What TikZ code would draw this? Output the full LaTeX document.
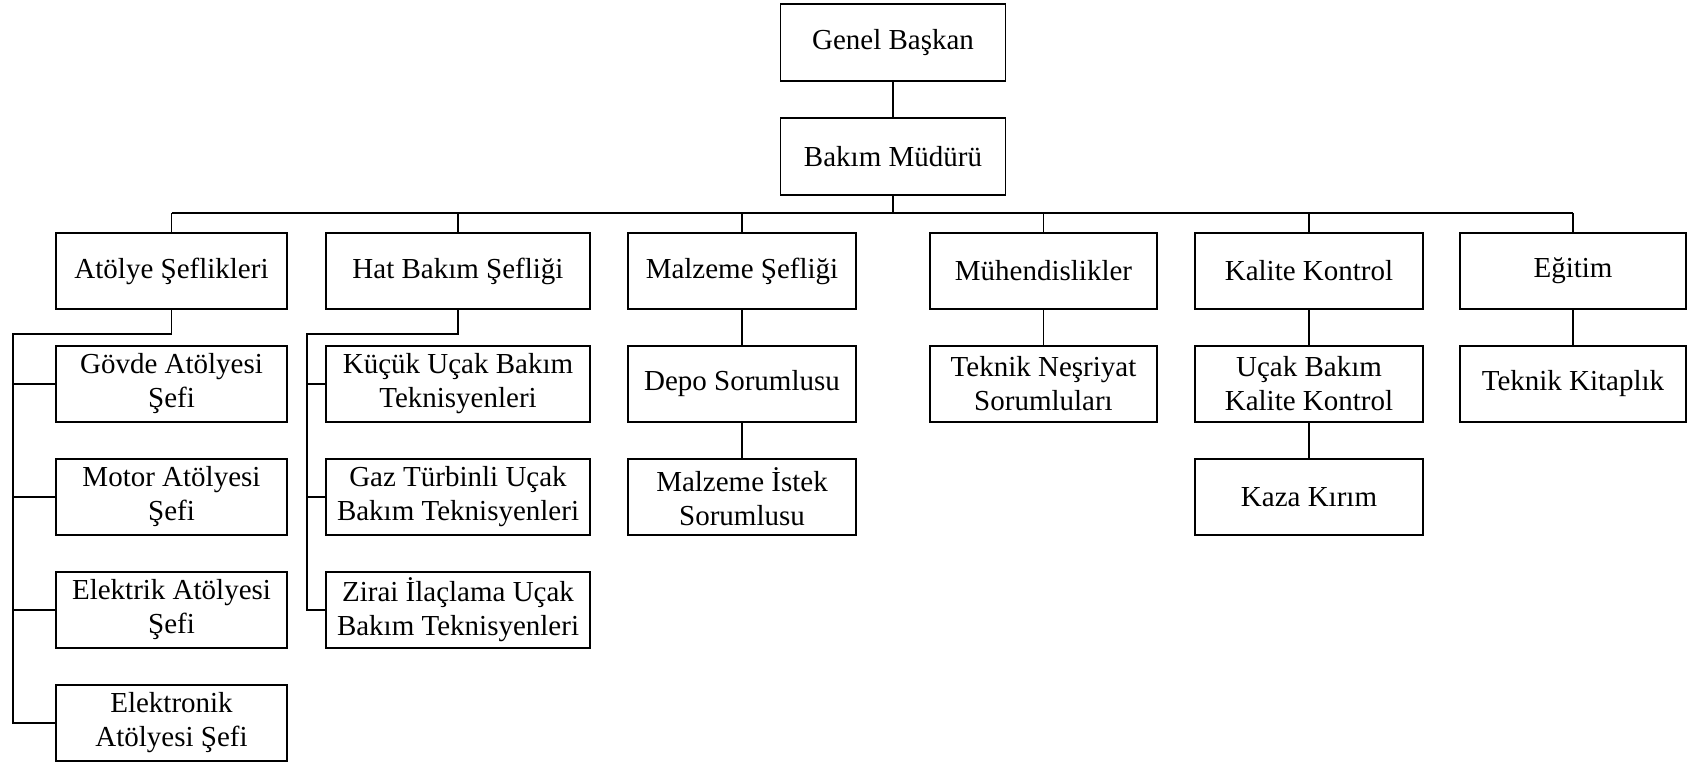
\documentclass[tikz,border=0pt]{standalone}
\usepackage{fontspec}
\setmainfont{Liberation Serif}
\begin{document}
\begin{tikzpicture}[x=1pt,y=-1pt,
  line width=1.7pt,
  orgbox/.style={draw, rectangle, inner sep=0pt, minimum height=76pt,
    align=center, font=\fontsize{29}{34}\selectfont},
  link/.style={draw, line join=miter}]
\useasboundingbox (0,0) rectangle (1687,764);

% top of the chart
\node[orgbox, minimum width=225pt, minimum height=77pt] (genel) at (893,42.5) {Genel Başkan};
\node[orgbox, minimum width=225pt, minimum height=77pt] (bakim) at (893,156.5) {Bakım Müdürü};

% first level units
\node[orgbox, minimum width=231pt] (atolye) at (171.5,271) {Atölye Şeflikleri};
\node[orgbox, minimum width=264pt] (hat)    at (458,271)   {Hat Bakım Şefliği};
\node[orgbox, minimum width=228pt] (malz)   at (742,271)   {Malzeme Şefliği};
\node[orgbox, minimum width=227pt] (muh)    at (1043.5,271){Mühendislikler};
\node[orgbox, minimum width=228pt] (kal)    at (1309,271)  {Kalite Kontrol};
\node[orgbox, minimum width=226pt] (egi)    at (1573,271)  {Eğitim};

% workshops
\node[orgbox, minimum width=231pt] (govde)  at (171.5,384) {Gövde Atölyesi\\Şefi};
\node[orgbox, minimum width=231pt] (motor)  at (171.5,497) {Motor Atölyesi\\Şefi};
\node[orgbox, minimum width=231pt] (elk)    at (171.5,610) {Elektrik Atölyesi\\Şefi};
\node[orgbox, minimum width=231pt] (elkt)   at (171.5,723) {Elektronik\\Atölyesi Şefi};

% line maintenance
\node[orgbox, minimum width=264pt] (kucuk)  at (458,384) {Küçük Uçak Bakım\\Teknisyenleri};
\node[orgbox, minimum width=264pt] (gaz)    at (458,497) {Gaz Türbinli Uçak\\Bakım Teknisyenleri};
\node[orgbox, minimum width=264pt] (zirai)  at (458,610) {Zirai İlaçlama Uçak\\Bakım Teknisyenleri};

% material
\node[orgbox, minimum width=228pt] (depo)   at (742,384) {Depo Sorumlusu};
\node[orgbox, minimum width=228pt] (istek)  at (742,497) {Malzeme İstek\\Sorumlusu};

% engineering
\node[orgbox, minimum width=227pt] (nesr)   at (1043.5,384) {Teknik Neşriyat\\Sorumluları};

% quality
\node[orgbox, minimum width=228pt] (ucak)   at (1309,384) {Uçak Bakım\\Kalite Kontrol};
\node[orgbox, minimum width=228pt] (kaza)   at (1309,497) {Kaza Kırım};

% training
\node[orgbox, minimum width=226pt] (kitap)  at (1573,384) {Teknik Kitaplık};

% main bus
\coordinate (bus) at (893,213);
\draw[link] (genel) -- (bakim);
\draw[link] (bakim.south) -- (bus);
\draw[link] (atolye.north |- bus) -- (egi.north |- bus);
\foreach \n in {atolye,hat,malz,muh,kal,egi}
  \draw[link] (\n.north) -- (\n.north |- bus);

% workshop branch
\coordinate (atrunk) at (13,334);
\draw[link] (atolye.south) |- (atrunk) -- (atrunk |- elkt.west) -- (elkt.west);
\foreach \n in {govde,motor,elk}
  \draw[link] (atrunk |- \n.west) -- (\n.west);

% line maintenance branch
\coordinate (htrunk) at (307,334);
\draw[link] (hat.south) |- (htrunk) -- (htrunk |- zirai.west) -- (zirai.west);
\foreach \n in {kucuk,gaz}
  \draw[link] (htrunk |- \n.west) -- (\n.west);

% vertical chains
\draw[link] (malz) -- (depo);
\draw[link] (depo) -- (istek);
\draw[link] (muh) -- (nesr);
\draw[link] (kal) -- (ucak);
\draw[link] (ucak) -- (kaza);
\draw[link] (egi) -- (kitap);
\end{tikzpicture}
\end{document}
